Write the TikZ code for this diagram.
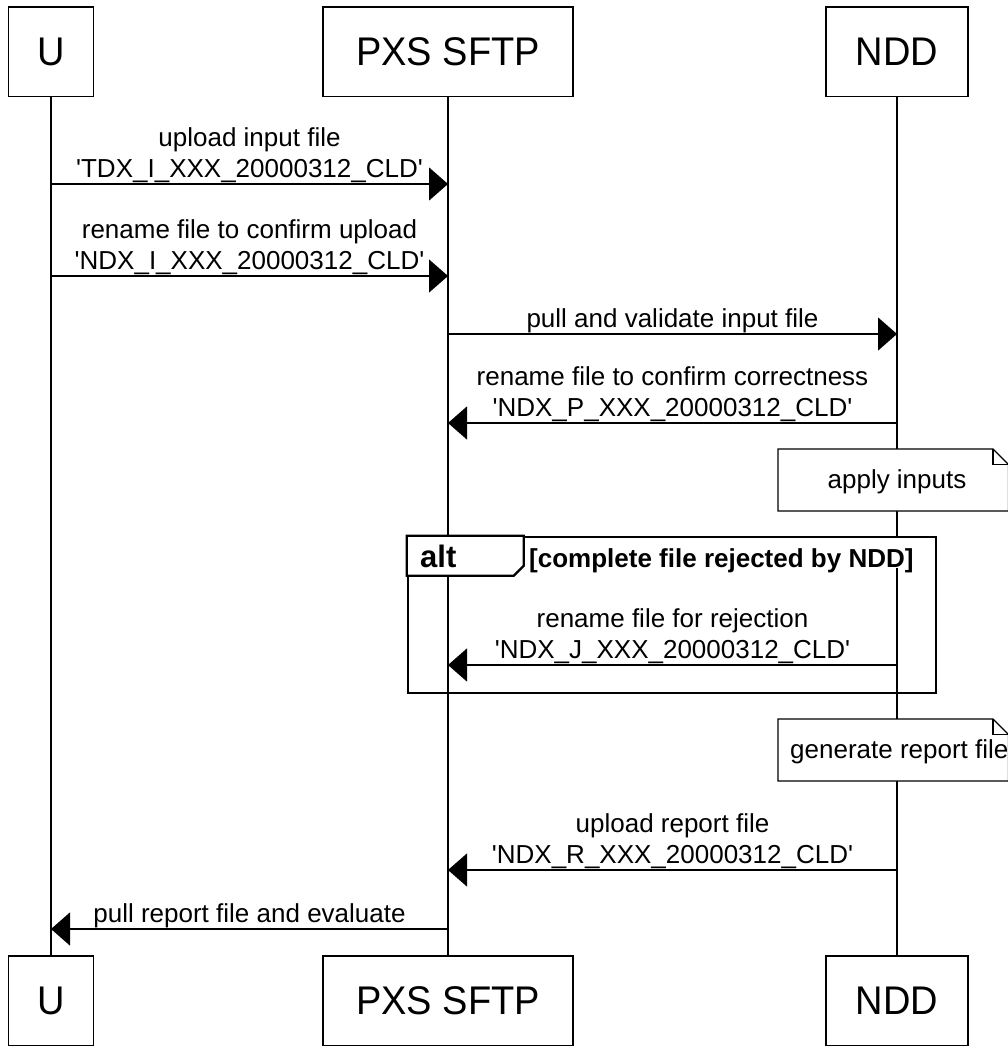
\documentclass[tikz,border=0pt]{standalone}
\usepackage{fontspec}
\setmainfont{Liberation Sans}[Ligatures=TeXOff]
\newfontfamily\partfont{Liberation Sans}[Ligatures=TeXOff,FakeStretch=0.95]
\usetikzlibrary{arrows.meta}
\begin{document}
\begin{tikzpicture}[x=1pt,y=-1pt,
  part/.style={draw, line width=1.5pt, minimum height=89.5pt, inner sep=0pt,
    font=\partfont\fontsize{40}{48}\selectfont},
  life/.style={line width=1.2pt},
  msg/.style={line width=1.4pt, -{Triangle[length=19pt,width=33pt]}},
  lbl/.style={font=\fontsize{26}{31}\selectfont, align=center, anchor=base, inner sep=0pt},
  notebox/.style={draw, fill=white, line width=1.3pt},
  notetext/.style={font=\fontsize{26}{31}\selectfont, inner sep=0pt},
  boldtxt/.style={font=\bfseries\fontsize{26}{31}\selectfont, inner sep=0pt}]
\useasboundingbox (0,0) rectangle (1007,1046);

% participants
\node[part, minimum width=85pt]  (u1) at (51,52) {U};
\node[part, minimum width=250pt] (p1) at (448,52) {PXS SFTP};
\node[part, minimum width=142pt] (n1) at (897,52) {NDD};
\node[part, minimum width=85pt]  (u2) at (51,1000.5) {U};
\node[part, minimum width=250pt] (p2) at (448,1000.5) {PXS SFTP};
\node[part, minimum width=142pt] (n2) at (897,1000.5) {NDD};

% lifelines
\draw[life] (u1.south) -- (u2.north);
\draw[life] (p1.south) -- (p2.north);
\draw[life] (n1.south) -- (n2.north);

% alt condition (white background hides lifeline)
\node[boldtxt, fill=white, anchor=base west, text height=29pt, text depth=1pt] (cond) at (529,567) {[complete file rejected by NDD]};
% alt frame
\node[draw, line width=2.5pt, minimum width=528pt, minimum height=156pt, inner sep=0pt] (altframe) at (672,615) {};
\draw[fill=white, line width=2.2pt] (altframe.north west) -- ++(117,0) -- ++(0,30) -- ++(-10,10) -- ++(-107,0) -- cycle;
\node[boldtxt, font=\bfseries\fontsize{31}{36}\selectfont, anchor=base west] (alttxt) at (420,567) {alt};

% notes
\draw[notebox] (778,449) -- (993,449) -- (1008.5,464.5) -- (1008.5,511) -- (778,511) -- cycle;
\draw[line width=1.3pt] (993,449) -- (993,464.5) -- (1008.5,464.5);
\node[notetext, anchor=base] (note1) at (897,488) {apply inputs};
\draw[notebox] (778,719) -- (993,719) -- (1008.5,734.5) -- (1008.5,781) -- (778,781) -- cycle;
\draw[line width=1.3pt] (993,719) -- (993,734.5) -- (1008.5,734.5);
\node[notetext, anchor=base west] (note2) at (790,758) {generate report file};

% message end points
\coordinate (m1a) at (51,184);  \coordinate (m1b) at (448,184);
\coordinate (m2a) at (51,276);  \coordinate (m2b) at (448,276);
\coordinate (m3a) at (448,334); \coordinate (m3b) at (897,334);
\coordinate (m4a) at (897,423); \coordinate (m4b) at (448,423);
\coordinate (m5a) at (897,665); \coordinate (m5b) at (448,665);
\coordinate (m6a) at (897,870); \coordinate (m6b) at (448,870);
\coordinate (m7a) at (448,929); \coordinate (m7b) at (51,929);

\draw[msg] (m1a) -- (m1b);
\draw[msg] (m2a) -- (m2b);
\draw[msg] (m3a) -- (m3b);
\draw[msg] (m4a) -- (m4b);
\draw[msg] (m5a) -- (m5b);
\draw[msg] (m6a) -- (m6b);
\draw[msg] (m7a) -- (m7b);

% labels (anchor = baseline of the last line)
\node[lbl] (l1) at (249.5,177) {upload input file\\'TDX\_I\_XXX\_20000312\_CLD'};
\node[lbl] (l2) at (249.5,269) {rename file to confirm upload\\'NDX\_I\_XXX\_20000312\_CLD'};
\node[lbl] (l3) at (672.5,327) {pull and validate input file};
\node[lbl] (l4) at (672.5,416) {rename file to confirm correctness\\'NDX\_P\_XXX\_20000312\_CLD'};
\node[lbl] (l5) at (672.5,658) {rename file for rejection\\'NDX\_J\_XXX\_20000312\_CLD'};
\node[lbl] (l6) at (672.5,863) {upload report file\\'NDX\_R\_XXX\_20000312\_CLD'};
\node[lbl] (l7) at (249.5,922) {pull report file and evaluate};
\end{tikzpicture}
\end{document}
